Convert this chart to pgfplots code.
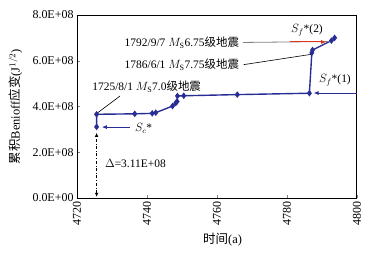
\documentclass[border=0pt]{standalone}
\usepackage{fontspec}
\setmainfont{Liberation Serif}
\newfontfamily\cjk{Noto Sans CJK SC}
\usepackage{pgfplots}
\pgfplotsset{compat=1.18}
\usetikzlibrary{arrows.meta,calc}
\definecolor{cblue}{RGB}{40,45,150}
\definecolor{cred}{RGB}{225,50,30}
\begin{document}
\begin{tikzpicture}[font=\fontsize{11.5}{13}\selectfont]
\begin{axis}[
 scale only axis, width=280bp, height=183bp,
 xmin=4720,xmax=4800,ymin=0,ymax=8,
 xtick={4720,4740,4760,4780,4800}, xticklabels={4720,4740,4760,4780,4800},
 ytick={0,2,4,6,8}, yticklabels={0.0E+00,2.0E+08,4.0E+08,6.0E+08,8.0E+08},
 ticklabel style={font=\fontsize{12}{14}\selectfont},
 xticklabel style={rotate=90,anchor=east},
 tick pos=left, tick align=inside,
 axis line style={line width=1pt},
 major tick length=3pt,
 xlabel={{\cjk 时间}(a)},
 ylabel={{\cjk 累积}Benioff{\cjk 应变}(J$^{1/2}$)},
 every axis x label/.style={at={(axis description cs:0.52,-0.23)},anchor=center,font=\fontsize{12.5}{14}\selectfont},
 every axis y label/.style={at={(axis description cs:-0.22,0.5)},anchor=center,rotate=90,font=\fontsize{12.5}{14}\selectfont},
 /pgf/number format/assume math mode=true,
 clip=false,
]
\addplot[cblue, line width=1.4pt, mark=diamond*, mark size=2.2pt] coordinates {
(4725.6,3.11) (4725.6,3.66) (4736.5,3.68) (4741.5,3.70) (4742.5,3.73)
(4747.3,4.02) (4748.2,4.15) (4748.6,4.22) (4748.7,4.46) (4750.5,4.47)
(4765.8,4.52) (4786.4,4.58) (4787.1,6.35) (4787.3,6.47) (4792.7,6.88) (4793.6,7.00)
};
% Delta arrow
\draw[black, dash dot, line width=0.6pt, {Latex[length=4pt,width=3.5pt]}-{Latex[length=4pt,width=3.5pt]}] (4725.6,0.05) -- (4725.6,2.85);
\node[anchor=west] at (4727.0,1.53) {$\Delta$=3.11E+08};
% Sc*
\draw[cblue, line width=0.8pt, -{Latex[length=5pt,width=4pt]}] (4735.1,3.10) -- (4727.1,3.10);
\node[anchor=west] at (4735.6,3.05) {$S_{c}$*};
% Sf*(1)
\draw[cblue, line width=0.8pt, -{Latex[length=5pt,width=4pt]}] (4800,4.59) -- (4787.6,4.59);
\node at (4793.7,5.16) {$S_{f}$*(1)};
% Sf*(2)
\draw[gray, line width=0.8pt] (4767.5,6.80) -- (4792.3,6.84);
\draw[cred, line width=1pt, -{Latex[length=5pt,width=4pt]}] (4780.9,6.82) -- (4791.2,6.82);
\node at (4785.7,7.34) {$S_{f}$*(2)};
% event labels
\node[anchor=east] at (4767.3,6.79) {1792/9/7 $M_{\mathrm{S}}$6.75{\cjk 级地震}};
\draw[black, line width=0.6pt] (4767.6,5.83) -- (4786.9,6.28);
\node[anchor=east] at (4767.3,5.81) {1786/6/1 $M_{\mathrm{S}}$7.75{\cjk 级地震}};
\draw[black, line width=0.6pt] (4732.3,4.46) -- (4725.5,3.68);
\node at (4739.9,4.87) {1725/8/1 $M_{\mathrm{S}}$7.0{\cjk 级地震}};
\end{axis}
\pgfresetboundingbox
\path[use as bounding box] ([shift={(-77bp,-56bp)}]current axis.south west) rectangle ++(371bp,254bp);
\end{tikzpicture}
\end{document}
